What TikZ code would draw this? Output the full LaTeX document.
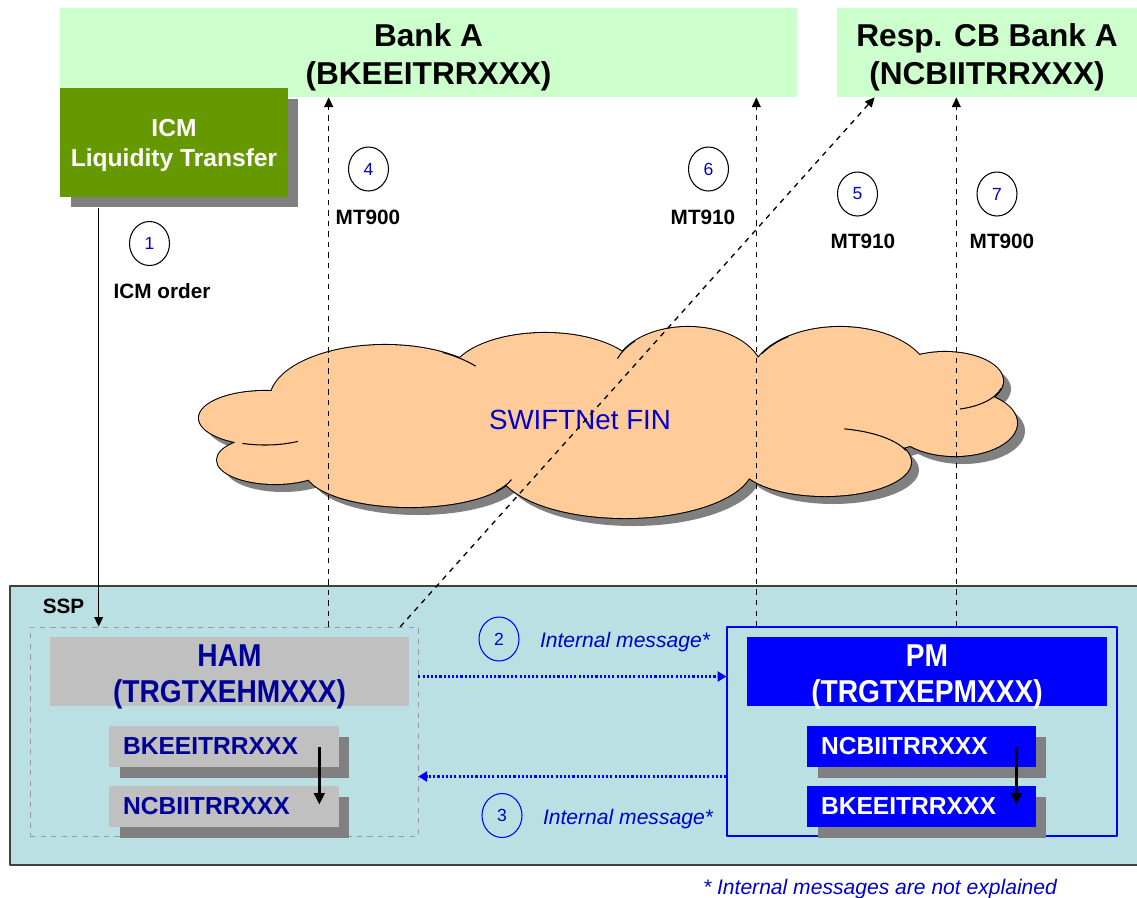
\documentclass[tikz,border=0pt]{standalone}
\usepackage{fontspec}
\setmainfont{Liberation Sans}
\usetikzlibrary{shapes.geometric,shadows,calc,arrows.meta}

\definecolor{bankgreen}{HTML}{CCFFCC}
\definecolor{icmgreen}{HTML}{669900}
\definecolor{shadegray}{HTML}{808080}
\definecolor{cloudorange}{HTML}{FFCC99}
\definecolor{sspblue}{HTML}{BBE0E3}
\definecolor{hamgray}{HTML}{C0C0C0}
\definecolor{hamtext}{HTML}{000099}
\definecolor{pmblue}{HTML}{0000FF}
\definecolor{msgblue}{HTML}{0000CC}

\newcommand{\padtop}[1]{\rule{0pt}{#1}}

\tikzset{
	bank/.style={fill=bankgreen, minimum height=1.78cm, align=center, inner sep=0pt, font=\fontsize{18}{21.5}\selectfont\bfseries},
	shade/.style={drop shadow={shadow xshift=0.21cm, shadow yshift=-0.21cm, fill=shadegray, opacity=1}},
	codebox/.style={minimum width=4.6cm, minimum height=0.82cm, text width=4.04cm, inner xsep=0.28cm, align=left, font=\fontsize{14}{16}\selectfont\bfseries, shade},
	header/.style={minimum height=1.38cm, inner sep=0pt},
	headtext/.style={align=center, inner sep=0pt, font=\fontsize{18}{20.4}\selectfont\bfseries\addfontfeature{FakeStretch=0.89}},
	num/.style={ellipse, draw, line width=0.6pt, minimum width=0.8cm, minimum height=0.88cm, inner sep=0pt, text=msgblue, font=\fontsize{10}{12}\selectfont},
	mt/.style={font=\fontsize{11.8}{14}\selectfont\bfseries},
	intmsg/.style={text=msgblue, font=\fontsize{12}{14}\selectfont\itshape},
	swiftmsg/.style={->, dashed, line width=0.75pt},
	internal/.style={-{Triangle[length=5pt,width=5.8pt]}, pmblue, line width=1.2pt, dash pattern=on 1.2pt off 1.2pt},
	booking/.style={-{Triangle[length=6.5pt,width=6pt]}, line width=1.5pt},
}

\begin{document}
\begin{tikzpicture}[x=0.02cm, y=-0.02cm, >={Triangle[length=5.5pt,width=5pt]}, line join=round]
	\useasboundingbox (0,0) rectangle (1137,897);
	% banks
	\node[bank, minimum width=14.74cm] (banka) at (428.5,52.5) {\padtop{18.8pt}Bank A\\(BKEEITRRXXX)};
	\node[bank, minimum width=6cm] (respcb) at (987,52.5) {\padtop{18.8pt}Resp. CB Bank A\\(NCBIITRRXXX)};
	\node[fill=icmgreen, shade, minimum width=4.56cm, minimum height=2.18cm, inner sep=0pt, align=center, text=white, font=\fontsize{14}{17}\selectfont\bfseries] (icm) at (174,142.5) {\padtop{13.4pt}ICM\\Liquidity Transfer};
	% network cloud
	\def\puffs{265/418/66/27, 275/460/58/24, 385/400/115/55, 545/378/95/45, 688/375/75/48, 840/380/90/53, 945/381/58/29, 955/423/62/33, 825/462/86/34, 625/465/128/53, 410/470/105/37, 610/420/340/55}
	\fill[shadegray] \foreach \cx/\cy/\rx/\ry in \puffs {(\cx+8,\cy+8) ellipse [x radius=\rx, y radius=\ry]};
	\draw[line width=1.2pt] \foreach \cx/\cy/\rx/\ry in \puffs {(\cx,\cy) ellipse [x radius=\rx, y radius=\ry]};
	\fill[cloudorange] \foreach \cx/\cy/\rx/\ry in \puffs {(\cx,\cy) ellipse [x radius=\rx, y radius=\ry]};
	\draw[line width=0.6pt] \foreach \cx/\cy/\rx/\ry/\ta/\tb in {385/400/115/55/-60/-38, 265/418/66/27/60/110, 945/381/58/29/15/75, 825/462/86/34/-77/-20, 410/470/105/37/15/35, 688/375/75/48/-160/-135, 840/380/90/53/-150/-125}
		{(\cx,\cy) ++(\ta:{\rx} and {\ry}) arc [start angle=\ta, end angle=\tb, x radius=\rx, y radius=\ry]};
	\node[text=msgblue, font=\fontsize{15.8}{19}\selectfont] (swift) at (580,420) {SWIFTNet FIN};
	% SSP
	\node[draw=black!75, line width=1pt, fill=sspblue, minimum width=22.62cm, minimum height=5.58cm] (ssp) at (575.5,725.5) {};
	\node[mt] (ssplabel) at (63.5,606) {SSP};
	\node[draw=gray!80, dashed, minimum width=7.76cm, minimum height=4.18cm] (hamgrp) at (224,731.5) {};
	\node[header, fill=hamgray, minimum width=7.18cm] (ham) at (229.5,671.5) {};
	\node[headtext, text=hamtext] (hamname) at ($(ham)+(0,5.8)$) {HAM\\(TRGTXEHMXXX)};
	\node[codebox, fill=hamgray, text=hamtext] (hambke) at (224,746.5) {BKEEITRRXXX};
	\node[codebox, fill=hamgray, text=hamtext] (hamncb) at (224,806.5) {NCBIITRRXXX};
	\node[draw=pmblue, line width=0.8pt, minimum width=7.8cm, minimum height=4.18cm] (pmgrp) at (922,731.5) {};
	\node[header, fill=pmblue, minimum width=7.2cm] (pm) at (927,671.5) {};
	\node[headtext, text=white] (pmname) at ($(pm)+(0,5.8)$) {PM\\(TRGTXEPMXXX)};
	\node[codebox, fill=pmblue, text=white, minimum width=4.58cm, text width=4.02cm] (pmncb) at (921.5,746.5) {NCBIITRRXXX};
	\node[codebox, fill=pmblue, text=white, minimum width=4.58cm, text width=4.02cm] (pmbke) at (921.5,806.5) {BKEEITRRXXX};
	\draw[booking] (hambke.east) ++(-20,0) -- ++(0,58);
	\draw[booking] (pmncb.east) ++(-20,0) -- ++(0,58);
	% messages
	\coordinate (icmout) at ($(icm.south west)+(39,11)$);
	\draw[->, line width=0.75pt] (icmout) -- (icmout |- hamgrp.north);
	\coordinate (mt4) at ($(hamgrp.north west)+(299,0)$);
	\draw[swiftmsg] (mt4) -- (mt4 |- banka.south);
	\draw[swiftmsg] ($(hamgrp.north east)+(-18,0)$) -- ($(respcb.south west)+(38,0)$);
	\coordinate (mt6) at ($(pmgrp.north west)+(30,0)$);
	\draw[swiftmsg] (mt6) -- (mt6 |- banka.south);
	\coordinate (mt7) at ($(pmgrp.north west)+(230,0)$);
	\draw[swiftmsg] (mt7) -- (mt7 |- respcb.south);
	\draw[internal] ($(hamgrp.east)+(0,-55)$) -- ($(pmgrp.west)+(0,-55)$);
	\draw[internal] ($(pmgrp.west)+(0,45)$) -- ($(hamgrp.east)+(0,45)$);
	% labels
	\node[num] (n1) at (149.5,243.5) {1};
	\node[mt] (l1) at (162,291) {ICM order};
	\node[num] (n4) at (368.5,169) {4};
	\node[mt] (l4) at (368,217) {MT900};
	\node[num] (n6) at (708.5,169) {6};
	\node[mt] (l6) at (703,217) {MT910};
	\node[num] (n5) at (857.5,194) {5};
	\node[mt] (l5) at (863,241) {MT910};
	\node[num] (n7) at (997,194) {7};
	\node[mt] (l7) at (1002,241) {MT900};
	\node[num, draw=pmblue] (n2) at (499,639) {2};
	\node[intmsg] (l2) at (625,642) {Internal message*};
	\node[num, draw=pmblue] (n3) at (502,815.5) {3};
	\node[intmsg] (l3) at (628,819) {Internal message*};
	\node[intmsg] (note) at (880,889) {* Internal messages are not explained};
\end{tikzpicture}
\end{document}
